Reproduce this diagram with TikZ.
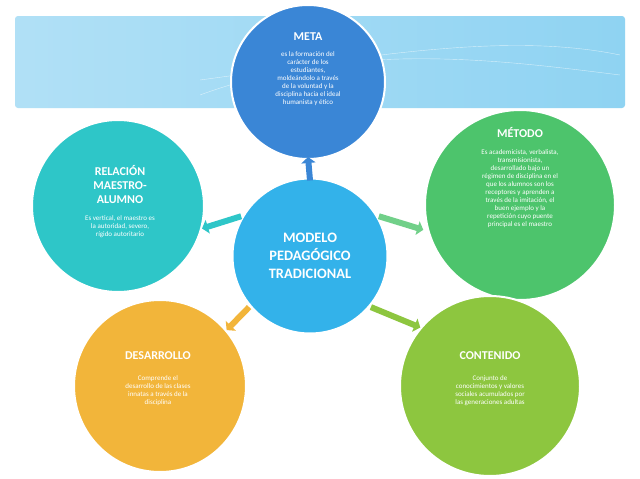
\documentclass[tikz,border=0pt]{standalone}
\usepackage{fontspec}
\setmainfont{Carlito}
\usetikzlibrary{arrows.meta}
\definecolor{cmeta}{HTML}{3A86D6}
\definecolor{ccen}{HTML}{33B2EA}
\definecolor{crel}{HTML}{2EC6C8}
\definecolor{cmet}{HTML}{4DC46C}
\definecolor{cdes}{HTML}{F2B53A}
\definecolor{ccon}{HTML}{8DC63F}
\definecolor{cban}{HTML}{8FD3F2}
\tikzset{
 bubble/.style={circle,draw=white,line width=2pt,text=white,align=center,inner sep=0pt},
 ttl/.style={text=white,align=center,font=\large\bfseries},
 body/.style={text=white,align=center,font=\scriptsize},
 conn/.style={line width=6pt,-{Triangle[length=6pt,width=14pt]}},
}
\begin{document}
\begin{tikzpicture}[x=1pt,y=-1pt]
\useasboundingbox (0,0) rectangle (640,479);
\fill[white] (0,0) rectangle (640,479);
\node[rounded corners=3pt,left color=cban!70!white,right color=cban,minimum width=610,minimum height=92,inner sep=0] (ban) at (320,62) {};
\draw[white,opacity=.6] (200,95) .. controls (350,40) and (500,60) .. (620,75);
\draw[white,opacity=.6] (200,80) .. controls (350,60) and (500,30) .. (620,55);
\node[bubble,fill=cmeta,minimum size=154] (meta) at (308,82) {};
\node[bubble,fill=ccen,minimum size=156,line width=3pt] (c) at (310,256) {};
\node[bubble,fill=crel,minimum size=172] (rel) at (118,206) {};
\node[bubble,fill=cmet,minimum size=190] (met) at (520,205) {};
\node[bubble,fill=cdes,minimum size=172] (des) at (160,386) {};
\node[bubble,fill=ccon,minimum size=180] (con) at (490,386) {};
\node[ttl] (tmeta) at (308,37) {META};
\node[body,anchor=north] (bmeta) at (308,48) {es la formación del\\carácter de los\\estudiantes,\\moldeándolo a través\\de la voluntad y la\\disciplina hacia el ideal\\humanista y ético};
\node[text=white,align=center,font=\Large\bfseries] (tc) at (310,256) {MODELO\\PEDAGÓGICO\\TRADICIONAL};
\node[ttl] (trel) at (120,185) {RELACIÓN\\MAESTRO-\\ALUMNO};
\node[body,anchor=north] (brel) at (120,212) {Es vertical, el maestro es\\la autoridad, severo,\\rígido autoritario};
\node[ttl] (tmet) at (520,133) {MÉTODO};
\node[body,anchor=north] (bmet) at (520,146) {Es academicista, verbalista,\\transmisionista,\\desarrollado bajo un\\régimen de disciplina en el\\que los alumnos son los\\receptores y aprenden a\\través de la imitación, el\\buen ejemplo y la\\repetición cuyo puente\\principal es el maestro};
\node[ttl] (tdes) at (158,356) {DESARROLLO};
\node[body,anchor=north] (bdes) at (158,372) {Comprende el\\desarrollo de las clases\\innatas a través de la\\disciplina};
\node[ttl] (tcon) at (490,356) {CONTENIDO};
\node[body,anchor=north] (bcon) at (490,372) {Conjunto de\\conocimientos y valores\\sociales acumulados por\\las generaciones adultas};
\draw[conn,cmeta] ([yshift=-4]c.north) -- ([yshift=3]meta.south);
\draw[conn,cmet!80!white] (c.30) -- ([shift={(-4,0)}]met.195);
\draw[conn,ccon] (c.-40) -- (con.140);
\draw[conn,cdes] (c.220) -- (des.40);
\draw[conn,crel] (c.150) -- (rel.-15);
\end{tikzpicture}
\end{document}
